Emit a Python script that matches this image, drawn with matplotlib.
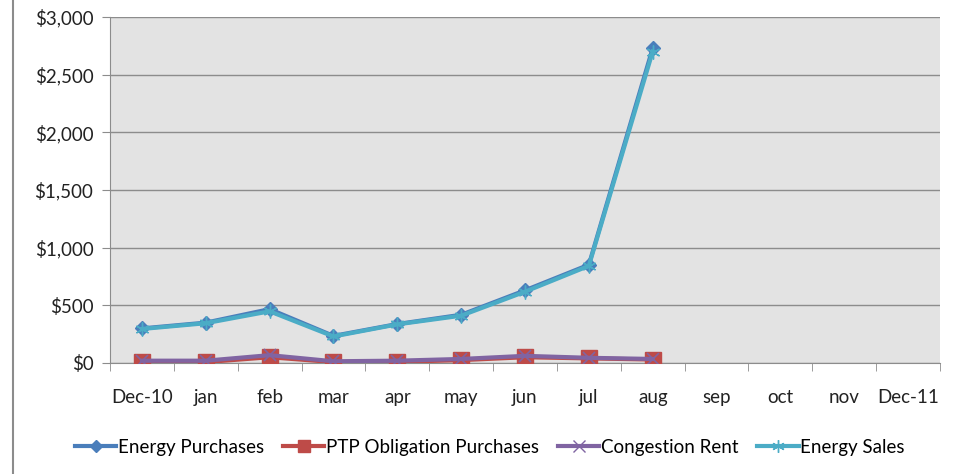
import matplotlib
matplotlib.use("Agg")
import matplotlib.pyplot as plt
from matplotlib.lines import Line2D
import numpy as np

categories = ["Dec-10", "jan", "feb", "mar", "apr", "may", "jun", "jul", "aug",
              "sep", "oct", "nov", "Dec-11"]
energy_purchases = [300, 350, 467, 235, 338, 418, 630, 852, 2730]
ptp_purchases = [10, 8, 50, 8, 10, 25, 50, 40, 30]
congestion_rent = [20, 20, 68, 15, 20, 35, 62, 45, 35]
energy_sales = [295, 345, 448, 230, 335, 410, 618, 842, 2700]
yticks = [0, 500, 1000, 1500, 2000, 2500, 3000]

plt.rcParams['font.family'] = ['Lato', 'DejaVu Sans']

fig = plt.figure(figsize=(9.58, 4.74), dpi=100)
ax = fig.add_axes([110/958, 1-363/474, (940-110)/958, (363-17)/474])
ax.set_facecolor('#e3e3e3')

x = np.arange(len(categories))
n = len(energy_purchases)
ax.plot(x[:n], energy_purchases, color='#4a7ebb', lw=3, marker='D', ms=7,
        mfc='#4a7ebb', mec='#4a7ebb', zorder=3)
ax.plot(x[:n], ptp_purchases, color='#be4b48', lw=3, marker='s', ms=11,
        mfc='#be4b48', mec='#be4b48', zorder=3)
ax.plot(x[:n], congestion_rent, color='#8064a2', lw=3, marker='x', ms=9,
        mew=1.2, zorder=4)
ax.plot(x[:n], energy_sales, color='#4bacc6', lw=3, marker=(6, 2, 0), ms=10,
        mew=1.0, zorder=4)

ax.set_xlim(-0.5, len(categories) - 0.5)
ax.set_ylim(0, 3000)
ax.set_yticks(yticks)
ax.set_yticklabels([f"${v:,}" for v in yticks], fontsize=13.5, color='#222222')
ax.yaxis.grid(True, color='#8c8c8c', lw=1)
ax.set_axisbelow(True)
ax.set_xticks(x)
ax.set_xticklabels(categories, fontsize=13.5, color='#222222')
ax.tick_params(axis='x', which='major', length=0, pad=19)
ax.set_xticks(np.arange(-0.5, len(categories), 1), minor=True)
ax.tick_params(axis='x', which='minor', length=6, color='#8c8c8c')
ax.tick_params(axis='y', length=6, color='#8c8c8c', pad=6)
for s in ['top', 'right']:
    ax.spines[s].set_visible(False)
ax.spines['left'].set_color('#8c8c8c')
ax.spines['bottom'].set_color('#8c8c8c')

fig.add_artist(Line2D([13/958, 13/958], [0, 1], color='#8c8c8c', lw=1.5))

handles = [
    Line2D([], [], color='#4a7ebb', lw=3, marker='D', ms=6),
    Line2D([], [], color='#be4b48', lw=3, marker='s', ms=9),
    Line2D([], [], color='#8064a2', lw=3, marker='x', ms=8, mew=1),
    Line2D([], [], color='#4bacc6', lw=3, marker=(6, 2, 0), ms=9, mew=1),
]
labels = ["Energy Purchases", "PTP Obligation Purchases", "Congestion Rent", "Energy Sales"]
fig.legend(handles, labels, loc='center', bbox_to_anchor=(490/958, 1-447/474),
           ncol=4, frameon=False, fontsize=13.5, handlelength=2.2, handletextpad=0.1,
           columnspacing=1.0)

fig.savefig("out.png", dpi=100)
